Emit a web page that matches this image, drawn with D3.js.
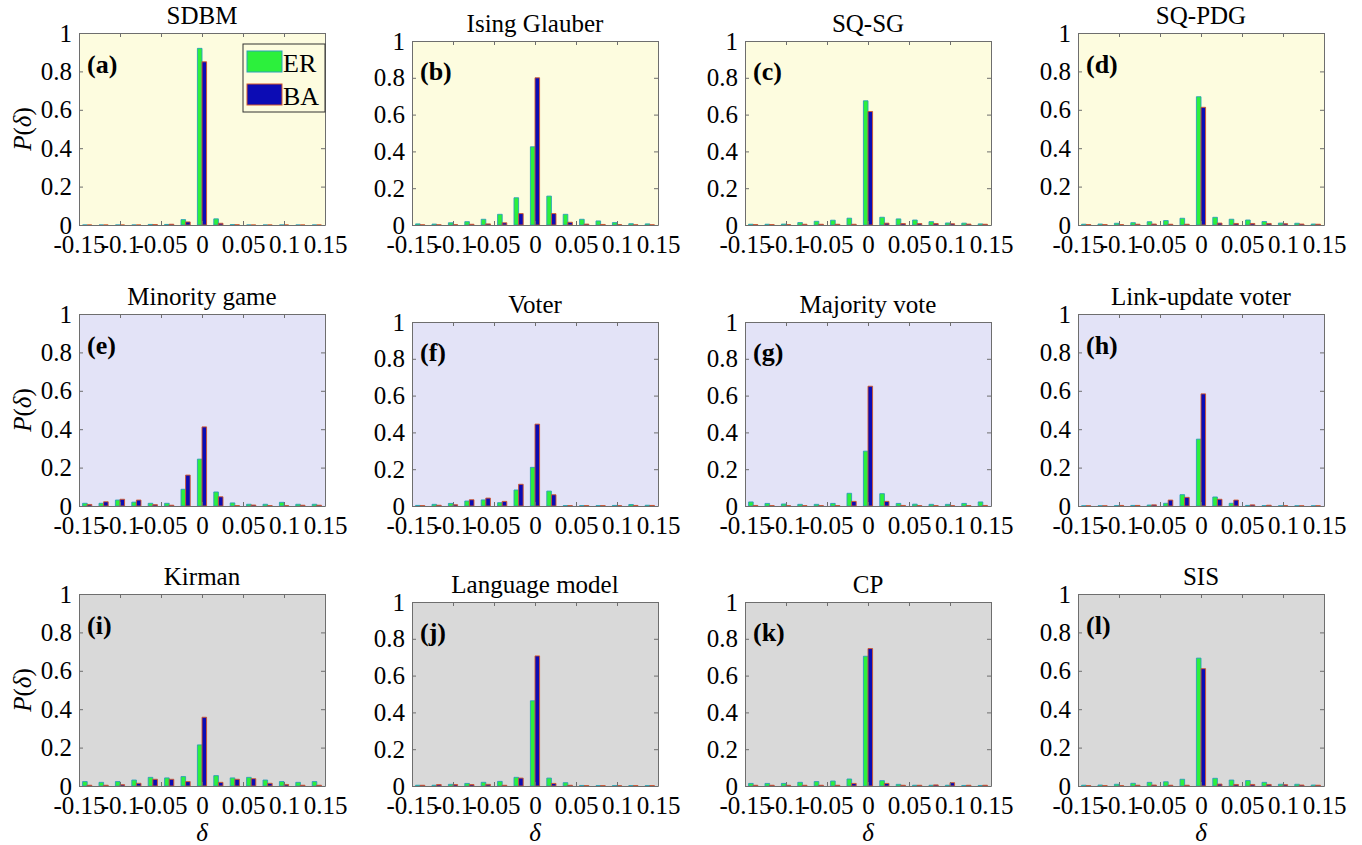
<!DOCTYPE html>
<html>
<head>
<meta charset="utf-8">
<script src="https://cdn.jsdelivr.net/npm/d3@7"></script>
<style>
  body { margin: 0; background: #ffffff; }
  svg text { font-family: "Liberation Serif", "Times New Roman", serif; fill: #000; }
</style>
</head>
<body>
<svg id="fig" width="1362" height="845"></svg>
<script>
// ---- data -------------------------------------------------------------
const binCenters = [-0.14, -0.12, -0.10, -0.08, -0.06, -0.04, -0.02, 0, 0.02, 0.04, 0.06, 0.08, 0.10, 0.12, 0.14];
const xTicks = [-0.15, -0.1, -0.05, 0, 0.05, 0.1, 0.15];
const xTickLabels = ["-0.15", "-0.1", "-0.05", "0", "0.05", "0.1", "0.15"];
const yTicks = [0, 0.2, 0.4, 0.6, 0.8, 1];
const yTickLabels = ["0", "0.2", "0.4", "0.6", "0.8", "1"];
const seriesNames = ["ER", "BA"];
const panelTitles = ["SDBM", "Ising Glauber", "SQ-SG", "SQ-PDG",
                     "Minority game", "Voter", "Majority vote", "Link-update voter",
                     "Kirman", "Language model", "CP", "SIS"];
const panelTags = ["(a)", "(b)", "(c)", "(d)", "(e)", "(f)", "(g)", "(h)", "(i)", "(j)", "(k)", "(l)"];

const erSDBM   = [0, 0, 0, 0, 0.003, 0.003, 0.028, 0.92, 0.032, 0.002, 0, 0, 0, 0, 0];
const baSDBM   = [0, 0, 0, 0, 0.002, 0.004, 0.016, 0.85, 0.009, 0.001, 0, 0, 0, 0, 0];
const erIsing  = [0.006, 0.005, 0.012, 0.018, 0.031, 0.058, 0.148, 0.425, 0.157, 0.058, 0.031, 0.022, 0.013, 0.007, 0.006];
const baIsing  = [0.001, 0.001, 0.002, 0.004, 0.006, 0.012, 0.062, 0.80, 0.062, 0.015, 0.005, 0.003, 0.002, 0.001, 0.001];
const erSQSG   = [0.004, 0.004, 0.005, 0.013, 0.02, 0.026, 0.037, 0.675, 0.042, 0.033, 0.027, 0.018, 0.011, 0.01, 0.006];
const baSQSG   = [0.002, 0.002, 0.002, 0.004, 0.004, 0.004, 0.004, 0.617, 0.01, 0.008, 0.008, 0.008, 0.007, 0.005, 0.004];
const erSQPDG  = [0.004, 0.005, 0.009, 0.012, 0.017, 0.023, 0.035, 0.668, 0.04, 0.03, 0.026, 0.018, 0.01, 0.009, 0.005];
const baSQPDG  = [0.002, 0.002, 0.002, 0.004, 0.005, 0.004, 0.004, 0.613, 0.01, 0.008, 0.008, 0.008, 0.007, 0.005, 0.004];
const erMinor  = [0.014, 0.014, 0.031, 0.02, 0.014, 0.014, 0.087, 0.244, 0.073, 0.016, 0.009, 0.009, 0.019, 0.009, 0.009];
const baMinor  = [0.008, 0.022, 0.035, 0.031, 0.007, 0.004, 0.161, 0.412, 0.048, 0.002, 0.005, 0.002, 0.002, 0.004, 0.004];
const erVoter  = [0.003, 0.009, 0.014, 0.027, 0.033, 0.018, 0.087, 0.21, 0.081, 0.002, 0.002, 0.002, 0.003, 0.008, 0.004];
const baVoter  = [0.002, 0.004, 0.007, 0.034, 0.043, 0.025, 0.118, 0.445, 0.061, 0.002, 0.002, 0.002, 0.002, 0.003, 0.003];
const erMajor  = [0.022, 0.014, 0.011, 0.009, 0.009, 0.014, 0.069, 0.298, 0.067, 0.014, 0.01, 0.009, 0.009, 0.014, 0.022];
const baMajor  = [0.003, 0.002, 0.002, 0.002, 0.002, 0.002, 0.025, 0.651, 0.025, 0.003, 0.002, 0.002, 0.002, 0.002, 0.003];
const erLink   = [0.001, 0.001, 0.002, 0.003, 0.005, 0.014, 0.059, 0.348, 0.047, 0.014, 0.003, 0.002, 0.001, 0.001, 0.001];
const baLink   = [0.001, 0.001, 0.003, 0.003, 0.006, 0.031, 0.045, 0.584, 0.035, 0.031, 0.006, 0.004, 0.002, 0.001, 0.001];
const erKirman = [0.023, 0.019, 0.023, 0.031, 0.045, 0.042, 0.049, 0.214, 0.054, 0.042, 0.045, 0.031, 0.023, 0.019, 0.023];
const baKirman = [0.004, 0.004, 0.007, 0.014, 0.035, 0.035, 0.023, 0.358, 0.019, 0.035, 0.038, 0.014, 0.008, 0.004, 0.004];
const erLang   = [0.004, 0.004, 0.009, 0.014, 0.02, 0.025, 0.047, 0.463, 0.043, 0.018, 0.003, 0.002, 0.002, 0.002, 0.002];
const baLang   = [0.004, 0.008, 0.008, 0.008, 0.009, 0.004, 0.043, 0.707, 0.014, 0.004, 0.002, 0.002, 0.002, 0.002, 0.002];
const erCP     = [0.014, 0.014, 0.014, 0.02, 0.024, 0.027, 0.038, 0.705, 0.029, 0.009, 0.004, 0.004, 0.004, 0.003, 0.003];
const baCP     = [0.004, 0.004, 0.004, 0.004, 0.004, 0.004, 0.014, 0.747, 0.014, 0.004, 0.004, 0.006, 0.018, 0.004, 0.004];
const erSIS    = [0.004, 0.005, 0.009, 0.014, 0.019, 0.022, 0.035, 0.666, 0.04, 0.031, 0.028, 0.019, 0.009, 0.009, 0.005];
const baSIS    = [0.002, 0.002, 0.002, 0.004, 0.005, 0.004, 0.004, 0.611, 0.01, 0.008, 0.008, 0.008, 0.007, 0.005, 0.004];

const erSeries = [erSDBM, erIsing, erSQSG, erSQPDG, erMinor, erVoter, erMajor, erLink, erKirman, erLang, erCP, erSIS];
const baSeries = [baSDBM, baIsing, baSQSG, baSQPDG, baMinor, baVoter, baMajor, baLink, baKirman, baLang, baCP, baSIS];

// ---- layout & style ---------------------------------------------------
const colLeft = [79, 412, 745, 1078];
const colHeight = [192, 184, 184, 192];
const rowBottom = [225, 506, 786];
const plotWidth = 246;
const rowBg = ["#fdfcdf", "#e3e3f7", "#d9d9d9"];
const fillColor = ["#2cf03c", "#0c0cb4"];
const edgeColor = ["#2a9fb8", "#d2572a"];
const barWidth = 0.0056;      // bar width in δ units
const axisColor = "#6e6e6e";
const fontSize = 25;

const svg = d3.select("#fig");

function barPath(x, y, x0, x1, v) {
  const a = x(x0), b = x(x1), yb = y(0), yt = y(v);
  return `M${a},${yb}V${yt}H${b}V${yb}Z`;
}

panelTitles.forEach((title, i) => {
  const col = i % 4, row = Math.floor(i / 4);
  const left = colLeft[col], right = left + plotWidth;
  const bottom = rowBottom[row], top = bottom - colHeight[col];

  const x = d3.scaleLinear().domain([-0.15, 0.15]).range([left, right]);
  const y = d3.scaleLinear().domain([0, 1]).range([bottom, top]);

  const g = svg.append("g").attr("class", "panel");

  g.append("rect")
    .attr("x", left).attr("y", top)
    .attr("width", plotWidth).attr("height", bottom - top)
    .attr("fill", rowBg[row]);

  // grouped bars: ER on the left half of each bin, BA on the right half
  [erSeries[i], baSeries[i]].forEach((vals, s) => {
    g.append("g").selectAll("path")
      .data(vals)
      .join("path")
      .attr("d", (v, k) => s === 0
        ? barPath(x, y, binCenters[k] - barWidth, binCenters[k], v)
        : barPath(x, y, binCenters[k], binCenters[k] + barWidth, v))
      .attr("fill", fillColor[s])
      .attr("stroke", edgeColor[s])
      .attr("stroke-width", 0.9);
  });

  // axes box with inward ticks
  const fmtX = (d, k) => xTickLabels[k];
  const fmtY = (d, k) => yTickLabels[k];
  const styleAxis = sel => {
    sel.select(".domain").attr("stroke", axisColor);
    sel.selectAll(".tick line").attr("stroke", axisColor);
    sel.selectAll("text").attr("font-size", fontSize)
      .attr("font-family", '"Liberation Serif", "Times New Roman", serif').attr("fill", "#000");
  };

  g.append("g").attr("transform", `translate(0,${bottom})`)
    .call(d3.axisBottom(x).tickValues(xTicks).tickFormat(fmtX)
      .tickSizeInner(-4).tickSizeOuter(0).tickPadding(10))
    .call(styleAxis);
  g.append("g").attr("transform", `translate(0,${top})`)
    .call(d3.axisTop(x).tickValues(xTicks).tickFormat("")
      .tickSizeInner(-4).tickSizeOuter(0))
    .call(styleAxis);
  g.append("g").attr("transform", `translate(${left},0)`)
    .call(d3.axisLeft(y).tickValues(yTicks).tickFormat(fmtY)
      .tickSizeInner(-4).tickSizeOuter(0).tickPadding(7))
    .call(styleAxis);
  g.append("g").attr("transform", `translate(${right},0)`)
    .call(d3.axisRight(y).tickValues(yTicks).tickFormat("")
      .tickSizeInner(-4).tickSizeOuter(0))
    .call(styleAxis);

  // title and panel tag
  g.append("text")
    .attr("x", (left + right) / 2).attr("y", top - 9)
    .attr("text-anchor", "middle").attr("font-size", fontSize)
    .text(title);
  g.append("text")
    .attr("x", left + 8).attr("y", y(0.79))
    .attr("font-size", 26).attr("font-weight", "bold")
    .text(panelTags[i]);

  // y label on the first column
  if (col === 0) {
    const t = g.append("text")
      .attr("transform", `translate(31,${(top + bottom) / 2}) rotate(-90)`)
      .attr("text-anchor", "middle").attr("font-size", fontSize);
    t.append("tspan").attr("font-style", "italic").text("P");
    t.append("tspan").text("(");
    t.append("tspan").attr("font-style", "italic").text("δ");
    t.append("tspan").text(")");
  }
  // x label on the bottom row
  if (row === 2) {
    g.append("text")
      .attr("x", (left + right) / 2).attr("y", bottom + 55)
      .attr("text-anchor", "middle").attr("font-size", fontSize)
      .attr("font-style", "italic")
      .text("δ");
  }

  // legend in the first panel
  if (i === 0) {
    const lw = 82, lh = 68;
    const lx = right - lw, ly = top + 11;
    const lg = g.append("g");
    lg.append("rect").attr("x", lx).attr("y", ly).attr("width", lw).attr("height", lh)
      .attr("fill", rowBg[row]).attr("stroke", "#333").attr("stroke-width", 1);
    seriesNames.forEach((name, s) => {
      const ey = ly + 7 + s * 33;
      lg.append("rect").attr("x", lx + 4).attr("y", ey).attr("width", 35).attr("height", 21)
        .attr("fill", fillColor[s]).attr("stroke", edgeColor[s]).attr("stroke-width", 1);
      lg.append("text").attr("x", lx + 40).attr("y", ey + 21)
        .attr("font-size", 26).text(name);
    });
  }
});
</script>
</body>
</html>
